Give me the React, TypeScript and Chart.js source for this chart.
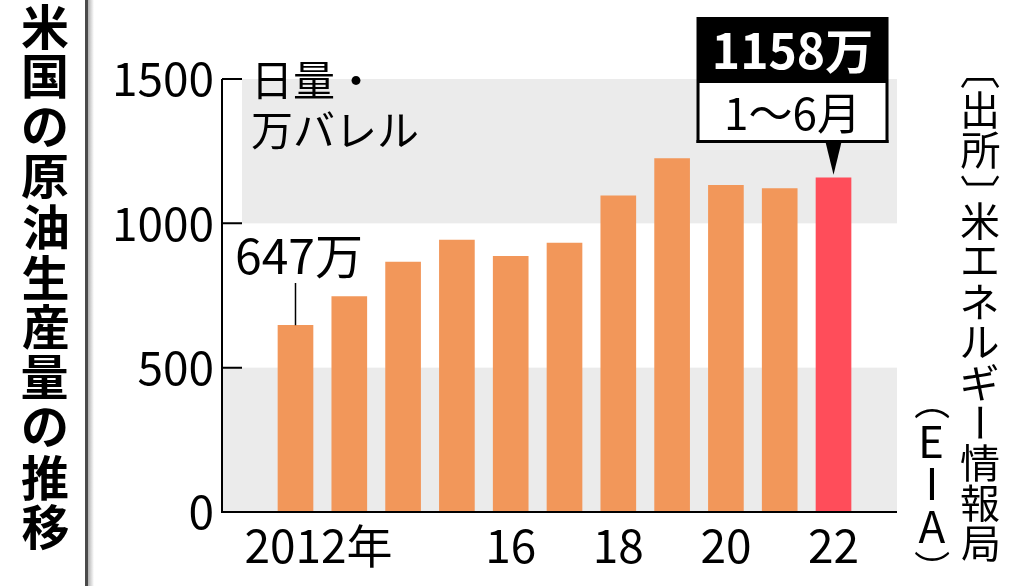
import React, { useEffect, useRef } from "react";
import { Chart, registerables } from "chart.js";

Chart.register(...registerables);

// ---- data ----
const years = [2012, 2013, 2014, 2015, 2016, 2017, 2018, 2019, 2020, 2021, 2022];
const production = [647, 746, 866, 942, 886, 932, 1095, 1224, 1132, 1120, 1158];
const yTicks = [0, 500, 1000, 1500];
const xTickYears = [2012, 2016, 2018, 2020, 2022];
const xTickLabels = ["2012年", "16", "18", "20", "22"];
const title = "米国の原油生産量の推移";
const unitLines = ["日量・", "万バレル"];
const firstLabel = "647万";
const calloutValue = "1158万";
const calloutPeriod = "1～6月";
const sourceMain = "〔出所〕米エネルギー情報局";
const sourceSub = ["（", "E", "I", "A", "）"];

// ---- styles ----
const ORANGE = "#F2975A";
const RED = "#FF4D5A";
const BAND = "#EBEBEB";
const FONT = "'Noto Sans CJK JP', 'Noto Sans', sans-serif";
const barColors = years.map((_, i) => (i === years.length - 1 ? RED : ORANGE));

const ROTATED = new Set(["〔", "〕", "（", "）", "ー"]);

// draws a char with its ink box centred on (x, y); some chars are turned for vertical writing
function drawVChar(ctx: CanvasRenderingContext2D, ch: string, x: number, y: number) {
  ctx.save();
  ctx.textAlign = "left";
  ctx.textBaseline = "alphabetic";
  const m = ctx.measureText(ch);
  const cx = (m.actualBoundingBoxRight - m.actualBoundingBoxLeft) / 2;
  const cy = (m.actualBoundingBoxDescent - m.actualBoundingBoxAscent) / 2;
  ctx.translate(x, y);
  if (ROTATED.has(ch)) ctx.rotate(Math.PI / 2);
  ctx.fillText(ch, -cx, -cy);
  ctx.restore();
}

const decorPlugin = {
  id: "decor",
  beforeDatasetsDraw(chart: any) {
    const { ctx, chartArea, scales } = chart;
    const y = scales.y;
    ctx.save();
    ctx.fillStyle = BAND;
    ctx.fillRect(chartArea.left, y.getPixelForValue(500), chartArea.right - chartArea.left, y.getPixelForValue(0) - y.getPixelForValue(500));
    ctx.fillRect(chartArea.left + 20, y.getPixelForValue(1500), chartArea.right - chartArea.left - 20, y.getPixelForValue(1000) - y.getPixelForValue(1500));
    ctx.restore();
  },
  afterDatasetsDraw(chart: any) {
    const { ctx, chartArea, scales } = chart;
    const x = scales.x;
    const y = scales.y;
    ctx.save();

    // separator line at left
    ctx.fillStyle = "#4a4a4a";
    ctx.fillRect(85, 0, 3, 586);
    const g = ctx.createLinearGradient(88, 0, 94, 0);
    g.addColorStop(0, "#b0b0b0");
    g.addColorStop(1, "#ffffff");
    ctx.fillStyle = g;
    ctx.fillRect(88, 0, 6, 586);

    // axes
    ctx.strokeStyle = "#000";
    ctx.lineWidth = 2;
    ctx.beginPath();
    ctx.moveTo(chartArea.left, y.getPixelForValue(1500));
    ctx.lineTo(chartArea.left, y.getPixelForValue(0));
    ctx.lineTo(chartArea.right, y.getPixelForValue(0));
    ctx.stroke();
    ctx.beginPath();
    for (const t of yTicks) {
      if (t === 0) continue;
      const py = y.getPixelForValue(t);
      ctx.moveTo(chartArea.left, py);
      ctx.lineTo(chartArea.left + 20, py);
    }
    ctx.stroke();

    // y tick labels
    ctx.fillStyle = "#000";
    ctx.font = `46px ${FONT}`;
    ctx.textAlign = "right";
    ctx.textBaseline = "middle";
    for (const t of yTicks) {
      ctx.fillText(String(t), 214, y.getPixelForValue(t));
    }

    // x tick labels
    ctx.textAlign = "left";
    xTickYears.forEach((yr, i) => {
      const label = xTickLabels[i];
      const numPart = label.replace("年", "");
      const w = ctx.measureText(numPart).width;
      ctx.fillText(label, x.getPixelForValue(yr) - w / 2, 546);
    });

    // title (vertical, bold)
    ctx.font = `bold 48px ${FONT}`;
    [...title].forEach((ch, i) => drawVChar(ctx, ch, 45, 27 + i * 50));

    // unit
    ctx.font = `42px ${FONT}`;
    ctx.textAlign = "left";
    ctx.textBaseline = "middle";
    ctx.fillText(unitLines[0], 251, 80);
    ctx.fillText(unitLines[1], 251, 130);

    // first label with connector
    const x0 = x.getPixelForValue(years[0]);
    const y0 = y.getPixelForValue(production[0]);
    ctx.font = `48px ${FONT}`;
    ctx.fillText(firstLabel, 235, 256);
    ctx.lineWidth = 1.5;
    ctx.beginPath();
    ctx.moveTo(x0, 283);
    ctx.lineTo(x0, y0);
    ctx.stroke();

    // callout for last bar
    const n = years.length - 1;
    const tipX = x.getPixelForValue(years[n]);
    const tipY = y.getPixelForValue(production[n]) - 3;
    const bl = tipX - 137;
    const br = tipX + 55;
    ctx.fillStyle = "#000";
    ctx.fillRect(bl, 17, br - bl, 66);
    ctx.fillStyle = "#fff";
    ctx.fillRect(bl + 3, 83, br - bl - 6, 57);
    ctx.fillStyle = "#000";
    ctx.fillRect(bl, 140, br - bl, 3);
    ctx.fillRect(bl, 83, 3, 60);
    ctx.fillRect(br - 3, 83, 3, 60);
    ctx.beginPath();
    ctx.moveTo(tipX - 8, 142);
    ctx.lineTo(tipX + 8, 142);
    ctx.lineTo(tipX, tipY);
    ctx.closePath();
    ctx.fill();
    ctx.textAlign = "center";
    ctx.fillStyle = "#fff";
    ctx.font = `bold 48px ${FONT}`;
    ctx.fillText(calloutValue, (bl + br) / 2, 51);
    ctx.fillStyle = "#000";
    ctx.font = `44px ${FONT}`;
    ctx.fillText(calloutPeriod, (bl + br) / 2, 113);

    // source (vertical)
    ctx.font = `40px ${FONT}`;
    const chars = [...sourceMain];
    let sy = 83;
    chars.forEach((ch, i) => {
      drawVChar(ctx, ch, 980, sy);
      const next = chars[i + 1];
      if (ch === "〔") sy += 27;
      else if (next === "〕") sy += 30;
      else sy += 40.4;
    });
    const subY = [414, 442, 484, 527, 556];
    sourceSub.forEach((ch, i) => {
      ctx.font = ch === "（" || ch === "）" ? `36px ${FONT}` : `44px ${FONT}`;
      drawVChar(ctx, ch, 932, subY[i]);
    });

    ctx.restore();
  },
};

export default function App() {
  const ref = useRef<HTMLCanvasElement | null>(null);
  useEffect(() => {
    document.body.style.margin = "0";
    const canvas = ref.current!;
    const chart = new Chart(canvas, {
      type: "bar",
      data: {
        datasets: [
          {
            data: years.map((yr, i) => ({ x: yr, y: production[i] })),
            backgroundColor: barColors,
            barThickness: 35,
            borderWidth: 0,
          },
        ],
      },
      options: {
        responsive: false,
        animation: false,
        events: [],
        layout: { padding: { left: 222, right: 127, top: 79, bottom: 74 } },
        plugins: { legend: { display: false }, tooltip: { enabled: false }, title: { display: false } },
        scales: {
          x: { type: "linear", min: 2010.634, max: 2023.18, offset: false, grid: { offset: false }, display: false },
          y: { min: 0, max: 1500, display: false },
        },
      },
      plugins: [decorPlugin],
    });
    return () => chart.destroy();
  }, []);
  return (
    <div style={{ position: "absolute", left: 0, top: 0, width: 1024, height: 586, background: "#fff" }}>
      <canvas ref={ref} width={1024} height={586} />
    </div>
  );
}
